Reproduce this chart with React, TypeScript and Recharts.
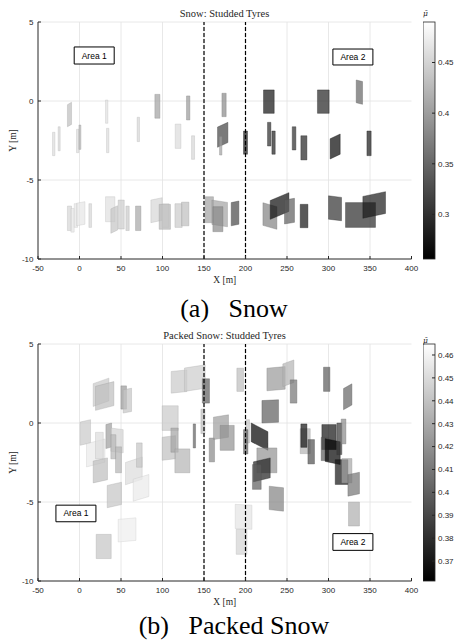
import React from 'react';
import { ComposedChart, XAxis, YAxis, CartesianGrid, ReferenceArea, ReferenceLine } from 'recharts';

// axis ticks / grid
const xTicks = [-50, 0, 50, 100, 150, 200, 250, 300, 350, 400];
const yTicks = [-10, -5, 0, 5];
const gridX = [0, 50, 100, 150, 200, 250, 300, 350];
const gridY = [-5, 0, 5];
const zoneLines = [150, 200];

// colour scale limits (mu) and colorbar ticks
const snowRange = [0.256, 0.49];
const snowBarTicks = [0.3, 0.35, 0.4, 0.45];
const packedRange = [0.3613, 0.4648];
const packedBarTicks = [0.37, 0.38, 0.39, 0.4, 0.41, 0.42, 0.43, 0.44, 0.45, 0.46];

// patches: [xMin, xMax, yMin, yMax, mu, tilt(dy of right edge)]
const snowPatches = [
  [-14.5, -9.6, -1.63, -0.08, 0.43, 0.15],
  [-32.5, -29.6, -3.46, -1.98, 0.458, 0],
  [-25.7, -23.3, -3.15, -1.63, 0.451, 0],
  [-3.6, -0.7, -3.27, -1.79, 0.458, 0],
  [-0.7, 1.7, -3.06, -1.52, 0.42, 0],
  [31.3, 34.2, -1.41, 0.06, 0.461, 0],
  [32.5, 35.4, -3.27, -1.73, 0.458, 0],
  [69.5, 72.3, -2.57, -1.03, 0.451, 0],
  [90.8, 96.9, -1.09, 0.42, 0.404, 0],
  [115.3, 122.2, -3.0, -1.46, 0.458, 0],
  [128.9, 133.0, -1.2, 0.32, 0.396, 0],
  [135.0, 138.6, -3.69, -2.2, 0.451, 0],
  [-14.5, -9.6, -8.2, -6.65, 0.451, 0],
  [-10.4, -6.4, -8.3, -6.8, 0.466, 0],
  [-6.4, -2.4, -8.0, -6.5, 0.466, 0],
  [-3.6, 6.5, -7.9, -6.37, 0.466, 0.1],
  [11.3, 14.5, -8.0, -6.5, 0.451, 0],
  [31.3, 42.6, -7.64, -6.06, 0.461, 0],
  [37.8, 45.8, -8.37, -6.63, 0.437, 0.2],
  [46.6, 53.9, -8.1, -6.27, 0.443, 0],
  [55.9, 59.9, -8.2, -6.65, 0.441, 0],
  [67.5, 74.0, -8.2, -6.65, 0.409, 0],
  [86.0, 99.6, -7.7, -6.12, 0.451, 0.15],
  [99.6, 107.7, -8.0, -6.5, 0.466, 0],
  [96.0, 109.6, -8.12, -6.54, 0.425, 0],
  [115.0, 123.7, -8.0, -6.5, 0.441, 0],
  [122.9, 131.8, -7.9, -6.4, 0.43, 0],
  [171.6, 176.7, -0.99, 0.49, 0.382, 0],
  [166.3, 178.8, -2.93, -1.35, 0.317, 0.3],
  [168.7, 171.6, -3.42, -2.26, 0.404, 0],
  [197.6, 202.4, -3.37, -1.9, 0.273, 0],
  [221.7, 234.6, -0.78, 0.7, 0.273, 0],
  [226.5, 230.6, -2.85, -1.35, 0.295, 0],
  [231.8, 235.8, -3.37, -1.9, 0.284, 0],
  [256.3, 260.7, -3.1, -1.63, 0.295, 0],
  [266.7, 274.0, -3.73, -2.2, 0.287, 0],
  [286.7, 300.8, -0.78, 0.7, 0.287, 0],
  [302.0, 314.1, -3.67, -2.09, 0.262, 0.3],
  [333.4, 341.0, -0.21, 1.33, 0.349, -0.1],
  [346.3, 351.4, -3.46, -1.9, 0.28, 0],
  [151.4, 161.4, -7.7, -6.06, 0.404, 0],
  [159.5, 178.3, -7.96, -6.27, 0.406, -0.15],
  [160.7, 172.8, -8.27, -6.69, 0.382, 0],
  [182.8, 192.0, -7.9, -6.33, 0.32, 0.1],
  [221.0, 237.8, -8.12, -6.44, 0.375, -0.25],
  [229.8, 252.3, -7.49, -5.8, 0.267, 0.5],
  [247.0, 259.0, -7.78, -6.16, 0.34, 0.1],
  [265.9, 275.2, -8.02, -6.54, 0.273, 0],
  [300.0, 315.7, -7.58, -6.0, 0.3, -0.1],
  [320.5, 356.6, -8.0, -6.43, 0.295, 0],
  [341.4, 368.7, -7.42, -5.74, 0.28, 0.3],
];

const packedPatches = [
  [16.5, 35.4, 1.05, 2.84, 0.443, 0.35],
  [19.3, 41.4, 0.8, 2.62, 0.438, 0.3],
  [49.9, 56.6, 0.88, 2.35, 0.423, 0],
  [52.6, 62.7, 0.63, 2.2, 0.441, 0.1],
  [0.8, 13.3, -1.41, 0.21, 0.443, 0.15],
  [8.4, 30.6, -2.78, -1.01, 0.456, 0.3],
  [19.3, 28.6, -2.27, -0.59, 0.45, 0],
  [31.8, 38.6, -1.62, 0.0, 0.425, 0.1],
  [37.8, 52.6, -1.89, -0.32, 0.447, -0.1],
  [37.8, 43.9, -2.27, -0.74, 0.435, 0],
  [43.4, 50.6, -3.15, -1.51, 0.434, 0],
  [16.5, 33.7, -3.79, -2.21, 0.438, 0.2],
  [55.4, 75.5, -3.91, -2.15, 0.45, 0.35],
  [68.7, 75.5, -2.8, -1.26, 0.441, 0],
  [64.7, 83.6, -4.95, -3.26, 0.456, 0.3],
  [33.4, 50.6, -5.36, -3.75, 0.441, 0.2],
  [46.6, 68.0, -7.53, -6.0, 0.458, 0.1],
  [20.1, 38.2, -8.58, -7.05, 0.441, 0],
  [99.6, 118.9, -0.47, 1.09, 0.443, 0],
  [99.6, 115.7, -2.36, -0.8, 0.439, 0.1],
  [110.1, 118.9, -1.85, -0.32, 0.427, 0],
  [114.9, 133.0, -3.15, -1.64, 0.434, 0],
  [110.5, 129.4, 1.89, 3.36, 0.443, 0.1],
  [126.5, 151.4, 2.0, 3.68, 0.444, 0.2],
  [137.0, 139.8, -1.58, -0.06, 0.399, 0],
  [146.3, 151.1, -0.67, 0.88, 0.438, 0],
  [148.0, 156.6, 1.26, 2.8, 0.399, 0],
  [156.3, 162.7, -2.46, -0.95, 0.416, 0],
  [161.4, 179.5, -1.05, 0.52, 0.425, 0.15],
  [169.5, 186.4, -1.73, -0.15, 0.42, 0],
  [189.6, 197.6, 2.0, 3.47, 0.438, 0],
  [200.8, 204.8, -1.26, 0.21, 0.441, 0],
  [197.6, 202.9, -1.96, -0.42, 0.399, 0],
  [187.6, 207.7, -6.73, -5.15, 0.454, -0.05],
  [188.8, 201.7, -8.31, -6.73, 0.447, 0],
  [225.8, 247.8, 2.04, 3.57, 0.423, 0.1],
  [245.0, 258.3, 2.31, 3.99, 0.434, 0.25],
  [253.9, 261.9, 1.26, 2.73, 0.408, 0],
  [219.8, 239.8, 0.0, 1.47, 0.399, 0.05],
  [206.9, 227.0, -1.73, 0.0, 0.3613, -0.55],
  [213.7, 237.8, -3.15, -1.58, 0.42, 0],
  [209.6, 229.8, -3.72, -2.21, 0.374, 0.25],
  [208.4, 218.9, -4.2, -2.63, 0.399, 0],
  [228.6, 245.8, -5.58, -4.0, 0.414, -0.1],
  [265.9, 278.0, -1.94, -0.36, 0.434, 0],
  [266.7, 274.0, -1.54, -0.06, 0.369, 0],
  [275.2, 283.1, -2.59, -1.05, 0.393, 0],
  [294.0, 301.7, 2.0, 3.53, 0.398, 0],
  [292.0, 309.3, -1.68, -0.1, 0.369, 0],
  [291.2, 300.0, -2.38, -0.91, 0.398, 0],
  [296.0, 314.1, -2.63, -0.99, 0.362, -0.2],
  [310.1, 316.1, -2.0, 0.0, 0.384, 0],
  [315.3, 321.0, -1.32, 0.25, 0.417, 0],
  [318.1, 328.2, 0.84, 2.48, 0.402, 0.3],
  [308.1, 323.4, -3.89, -2.32, 0.369, 0],
  [316.1, 328.2, -3.79, -2.25, 0.429, 0],
  [323.4, 337.3, -4.63, -3.12, 0.408, 0.15],
  [324.1, 337.3, -6.52, -5.01, 0.432, 0],
];

const sans = '"Liberation Sans", Arial, sans-serif';
const serif = '"Liberation Serif", "Times New Roman", serif';
const axisColor = '#262626';

const greyLevel = (mu, range) => {
  const t = Math.min(1, Math.max(0, (mu - range[0]) / (range[1] - range[0])));
  return Math.round(t * 255);
};

// draws the (slightly tilted) patch inside the box that recharts computed for it
const PatchShape = ({ x, y, width, height, patch, range }) => {
  const [x1, x2, y1, y2, mu, dy] = patch;
  const px = (v) => x + ((v - x1) / (x2 - x1)) * width;
  const py = (v) => y + ((y2 - v) / (y2 - y1)) * height;
  const lb = dy >= 0 ? y1 : y1 - dy;
  const lt = dy >= 0 ? y2 - dy : y2;
  const rb = dy >= 0 ? y1 + dy : y1;
  const rt = dy >= 0 ? y2 : y2 + dy;
  const g = greyLevel(mu, range);
  const e = Math.round(g * 0.85);
  const pts = `${px(x1)},${py(lb)} ${px(x2)},${py(rb)} ${px(x2)},${py(rt)} ${px(x1)},${py(lt)}`;
  return (
    <polygon
      points={pts}
      fill={`rgb(${g},${g},${g})`}
      fillOpacity={0.7}
      stroke={`rgb(${e},${e},${e})`}
      strokeOpacity={0.5}
      strokeWidth={0.7}
    />
  );
};

const AreaBox = (label, x1, x2, y1, y2) => (
  <ReferenceArea
    key={label}
    x1={x1}
    x2={x2}
    y1={y1}
    y2={y2}
    fill="#ffffff"
    fillOpacity={1}
    stroke="#000000"
    strokeWidth={1}
    label={{ value: label, position: 'center', fontSize: 8.5, fill: '#000', fontFamily: sans }}
  />
);

const Panel = ({ patches, range, boxes }) => (
  <ComposedChart width={454} height={290} margin={{ top: 22, right: 42.5, bottom: 0, left: 0 }}>
    <CartesianGrid stroke="#e2e2e2" strokeWidth={0.8} verticalValues={gridX} horizontalValues={gridY} />
    <XAxis
      type="number"
      dataKey="x"
      domain={[-50, 400]}
      ticks={xTicks}
      interval={0}
      allowDataOverflow
      height={31}
      tickSize={-3}
      tickMargin={9}
      tick={{ fontSize: 8, fill: axisColor, fontFamily: sans }}
      axisLine={{ stroke: axisColor }}
      tickLine={{ stroke: axisColor }}
      label={{ value: 'X [m]', position: 'insideBottom', offset: 7, fontSize: 9.5, fill: axisColor, fontFamily: serif }}
    />
    <YAxis
      type="number"
      dataKey="y"
      domain={[-10, 5]}
      ticks={yTicks}
      interval={0}
      allowDataOverflow
      width={38}
      tickSize={-3}
      tickMargin={7.5}
      tick={{ fontSize: 8, fill: axisColor, fontFamily: sans }}
      axisLine={{ stroke: axisColor }}
      tickLine={{ stroke: axisColor }}
      label={{
        value: 'Y [m]',
        angle: -90,
        position: 'insideLeft',
        offset: 13,
        fontSize: 9.5,
        fill: axisColor,
        fontFamily: serif,
        style: { textAnchor: 'middle' },
      }}
    />
    {patches.map((p, i) => (
      <ReferenceArea
        key={'p' + i}
        x1={p[0]}
        x2={p[1]}
        y1={p[2]}
        y2={p[3]}
        ifOverflow="extendDomain"
        shape={(props) => <PatchShape {...props} patch={p} range={range} />}
      />
    ))}
    {zoneLines.map((v) => (
      <ReferenceLine key={'z' + v} x={v} stroke="#000" strokeWidth={1.2} strokeDasharray="4 2" />
    ))}
    {boxes}
  </ComposedChart>
);

const ColorBar = ({ range, ticks, id }) => (
  <ComposedChart width={36} height={290} margin={{ top: 22, right: 0, bottom: 31, left: 0 }}>
    <defs>
      <linearGradient id={id} x1="0" y1="1" x2="0" y2="0">
        <stop offset="0%" stopColor="#000" />
        <stop offset="100%" stopColor="#fff" />
      </linearGradient>
    </defs>
    <XAxis type="number" dataKey="x" domain={[0, 1]} hide allowDataOverflow />
    <YAxis
      type="number"
      dataKey="y"
      orientation="right"
      domain={range}
      ticks={ticks}
      interval={0}
      allowDataOverflow
      width={24}
      tickSize={-3}
      tickMargin={6}
      axisLine={false}
      tick={{ fontSize: 8, fill: axisColor, fontFamily: sans }}
      tickLine={{ stroke: axisColor }}
      tickFormatter={(v) => String(v)}
    />
    <ReferenceArea
      x1={0}
      x2={1}
      y1={range[0]}
      y2={range[1]}
      ifOverflow="extendDomain"
      shape={(p) => (
        <rect x={p.x} y={p.y} width={p.width} height={p.height} fill={`url(#${id})`} stroke={axisColor} strokeWidth={0.8} />
      )}
    />
  </ComposedChart>
);

const abs = (left, top, extra = {}) => ({ position: 'absolute', left, top, ...extra });

const muLabel = { width: 13, textAlign: 'center', fontFamily: '"DejaVu Serif", serif', fontStyle: 'italic', fontSize: 7.5, lineHeight: '10px', color: axisColor };

export default function App() {
  return (
    <div style={{ position: 'absolute', left: 0, top: 0, width: 454, height: 644, background: '#fff', overflow: 'hidden' }}>
      {/* (a) Snow */}
      <div style={abs(0, 0)}>
        <Panel
          patches={snowPatches}
          range={snowRange}
          boxes={[AreaBox('Area 1', -6.4, 41.8, 2.34, 3.42), AreaBox('Area 2', 305.3, 353.5, 2.28, 3.29)]}
        />
      </div>
      <div style={abs(422.5, 0)}>
        <ColorBar range={snowRange} ticks={snowBarTicks} id="cbSnow" />
      </div>
      <div style={abs(0, 8, { width: 449, textAlign: 'center', fontFamily: serif, fontSize: 10.5, lineHeight: '12px', color: axisColor })}>
        Snow: Studded Tyres
      </div>
      <div style={abs(419, 9, muLabel)}>{'\u03BC\u0304'}</div>
      <div style={abs(84, 294, { width: 300, textAlign: 'center', fontFamily: serif, fontSize: 26, lineHeight: '30px', whiteSpace: 'pre', color: '#000' })}>
        {'(a)   Snow'}
      </div>

      {/* (b) Packed Snow */}
      <div style={abs(0, 322)}>
        <Panel
          patches={packedPatches}
          range={packedRange}
          boxes={[AreaBox('Area 1', -28.4, 19.8, -6.25, -5.2), AreaBox('Area 2', 305.3, 353.5, -8.06, -7.0)]}
        />
      </div>
      <div style={abs(422.5, 322)}>
        <ColorBar range={packedRange} ticks={packedBarTicks} id="cbPacked" />
      </div>
      <div style={abs(0, 330, { width: 449, textAlign: 'center', fontFamily: serif, fontSize: 10.5, lineHeight: '12px', color: axisColor })}>
        Packed Snow: Studded Tyres
      </div>
      <div style={abs(419, 336, muLabel)}>{'\u03BC\u0304'}</div>
      <div style={abs(84, 611, { width: 300, textAlign: 'center', fontFamily: serif, fontSize: 26, lineHeight: '30px', whiteSpace: 'pre', color: '#000' })}>
        {'(b)   Packed Snow'}
      </div>
    </div>
  );
}
